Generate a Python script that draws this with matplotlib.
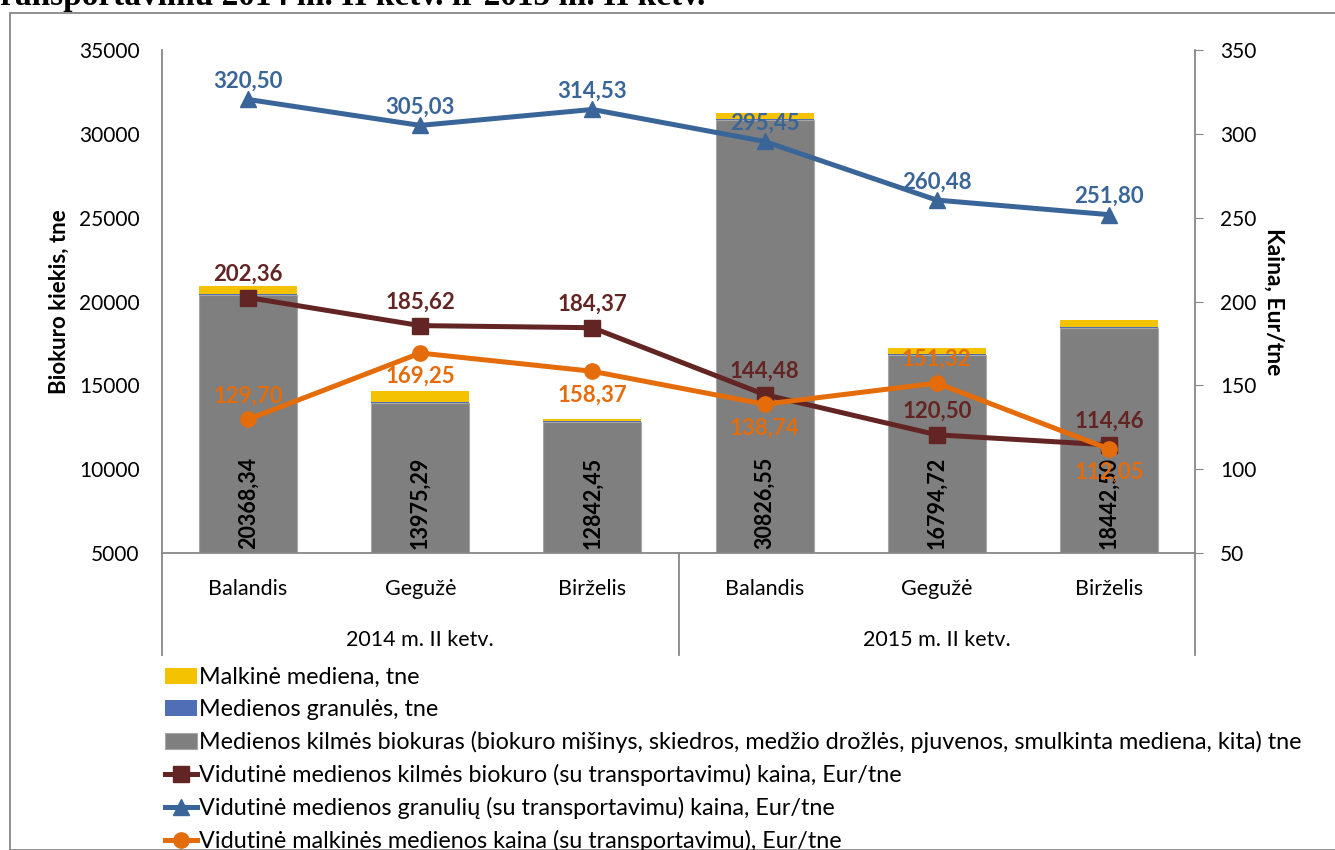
import numpy as np
import matplotlib
matplotlib.use("Agg")
import matplotlib.pyplot as plt
from matplotlib.patches import Rectangle

plt.rcParams['font.family'] = ['Lato', 'DejaVu Sans']

months = ['Balandis', 'Gegužė', 'Birželis', 'Balandis', 'Gegužė', 'Birželis']
quarters = ['2014 m. II ketv.', '2015 m. II ketv.']

# bar data, tne
biokuras = [20368.34, 13975.29, 12842.45, 30826.55, 16794.72, 18442.50]
granules = [60, 40, 50, 70, 60, 20]
malkine = [480, 650, 110, 360, 400, 460]

# prices, Eur/tne
kaina_bio = [202.36, 185.62, 184.37, 144.48, 120.50, 114.46]
kaina_gran = [320.50, 305.03, 314.53, 295.45, 260.48, 251.80]
kaina_malk = [129.70, 169.25, 158.37, 138.74, 151.32, 112.05]

c_gray = '#7F7F7F'
c_blue_bar = '#4F6EB5'
c_yellow = '#F5C200'
c_red = '#632523'
c_blue = '#3A6599'
c_orange = '#E46C0A'
c_axis = '#878787'

def lt(v):
    return f'{v:.2f}'.replace('.', ',')

fig = plt.figure(figsize=(13.35, 8.5), dpi=100)
ax = fig.add_axes([162/1335, 1-553/850, (1195-162)/1335, (553-50)/850])
ax2 = ax.twinx()

x = np.arange(len(months))
w = 0.57
b1 = np.array(biokuras)
b2 = b1 + np.array(granules)
ax.bar(x, biokuras, w, color=c_gray, edgecolor='#A6A6A6', lw=0.8,
       label='Medienos kilmės biokuras (biokuro mišinys, skiedros, medžio drožlės, pjuvenos, smulkinta mediena, kita) tne')
ax.bar(x, granules, w, bottom=b1, color=c_blue_bar, label='Medienos granulės, tne')
ax.bar(x, malkine, w, bottom=b2, color=c_yellow, label='Malkinė mediena, tne')

for xi, v in zip(x, biokuras):
    ax.annotate(lt(v), (xi, 5000), xytext=(0, 3), textcoords='offset points',
                rotation=90, ha='center', va='bottom', fontsize=15.5,
                fontweight='bold', color='black')

ax.set_ylim(5000, 35000)
ax.set_yticks(range(5000, 35001, 5000))
ax.set_xlim(-0.5, 5.5)
ax.set_xticks(x)
ax.set_xticklabels(months, fontsize=15.5)
ax.tick_params(axis='x', length=0, pad=19)
ax.tick_params(axis='y', length=0, labelsize=15, pad=16)
ax.set_ylabel('Biokuro kiekis, tne', fontsize=16, fontweight='bold', labelpad=7)

l1, = ax2.plot(x, kaina_bio, color=c_red, lw=3.6, marker='s', ms=11,
               label='Vidutinė medienos kilmės biokuro (su transportavimu) kaina, Eur/tne')
l2, = ax2.plot(x, kaina_gran, color=c_blue, lw=3.6, marker='^', ms=11,
               label='Vidutinė medienos granulių (su transportavimu) kaina, Eur/tne')
l3, = ax2.plot(x, kaina_malk, color=c_orange, lw=3.6, marker='o', ms=11,
               label='Vidutinė malkinės medienos kaina (su transportavimu), Eur/tne')
ax2.set_ylim(50, 350)
ax2.set_yticks(range(50, 351, 50))
ax2.tick_params(axis='y', length=6, color=c_axis, labelsize=15, pad=12)
ax2.set_ylabel('Kaina, Eur/tne', fontsize=16.5, fontweight='bold', rotation=-90,
               labelpad=20)

for xi, v in zip(x, kaina_gran):
    ax2.annotate(lt(v), (xi, v), xytext=(0, 13), textcoords='offset points',
                 ha='center', va='center', fontsize=16, fontweight='bold', color=c_blue)
for xi, v in zip(x, kaina_bio):
    ax2.annotate(lt(v), (xi, v), xytext=(0, 17), textcoords='offset points',
                 ha='center', va='center', fontsize=16, fontweight='bold', color=c_red)
malk_side = [1, -1, -1, -1, 1, -1]
for xi, v, s in zip(x, kaina_malk, malk_side):
    ax2.annotate(lt(v), (xi, v), xytext=(0, 17*s), textcoords='offset points',
                 ha='center', va='center', fontsize=16, fontweight='bold', color=c_orange)

for a in (ax, ax2):
    a.spines['top'].set_visible(False)
    for s in ('left', 'right', 'bottom'):
        a.spines[s].set_color(c_axis)
        a.spines[s].set_linewidth(1.3)
ax.spines['right'].set_visible(False)
ax2.spines['left'].set_visible(False)
ax2.spines['bottom'].set_visible(False)

# category group separators below the axis
tr = ax.get_xaxis_transform()
for xs in (-0.5, 2.5, 5.5):
    ax.plot([xs, xs], [0, -0.203], transform=tr, color=c_axis, lw=1.3, clip_on=False)
for i, q in enumerate(quarters):
    ax.text(1 + 3*i, -0.172, q, transform=tr, ha='center', va='center', fontsize=15.5)

handles = [ax.containers[2], ax.containers[1], ax.containers[0], l1, l2, l3]
fig.legend(handles, [h.get_label() for h in handles], loc='upper left',
           bbox_to_anchor=(165/1335, 1-667/850), frameon=False, fontsize=16.8,
           handlelength=1.35, handleheight=0.7, handletextpad=0.1, labelspacing=0.47,
           borderpad=0, borderaxespad=0)

fig.patches.append(Rectangle((10/1335, 0), 1.1, 1-13/850, transform=fig.transFigure,
                             fill=False, edgecolor=c_axis, lw=1.3))
fig.text(-0.008, 1-5/850, 'transportavimu 2014 m. II ketv. ir 2015 m. II ketv.',
         family='Liberation Serif', fontweight='bold', fontsize=24, va='baseline', ha='left')

fig.savefig('out.png', dpi=100)
